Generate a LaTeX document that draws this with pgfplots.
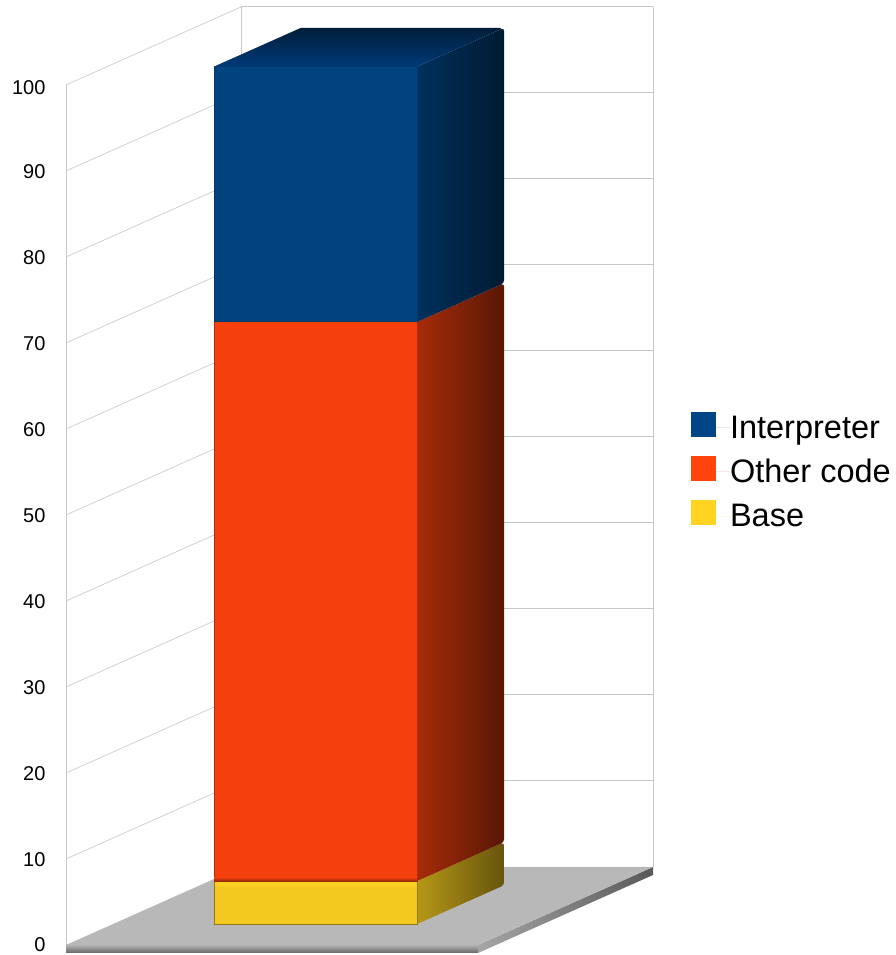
\documentclass[border=0pt]{standalone}
\usepackage{fontspec}
\setmainfont{Liberation Sans}
\usepackage{pgfplots}
\pgfplotsset{compat=1.18}

\definecolor{blueF}{HTML}{00437F}
\definecolor{orangeF}{HTML}{F5400E}
\definecolor{yellowF}{HTML}{F3C91F}
\definecolor{blueL}{HTML}{004586}
\definecolor{orangeL}{HTML}{FF420E}
\definecolor{yellowL}{HTML}{FFD320}

\begin{document}
\begin{tikzpicture}
\begin{axis}[
  x={(1pt,0pt)}, y={(175pt,78pt)}, z={(0pt,8.6pt)},
  xmin=0, xmax=412, ymin=0, ymax=1, zmin=0, zmax=100,
  clip=false,
  axis line style={draw=none},
  xtick=\empty, ytick=\empty,
  ztick={0,10,...,100},
  major tick length=0pt,
  /pgf/number format/assume math mode=true,
  ticklabel style={font=\fontsize{20}{24}\selectfont, text=black, xshift=-17pt, yshift=2pt},
  legend cell align=left,
  legend style={at={(axis cs:625,0,55.25)}, anchor=west, draw=none, fill=none,
    inner sep=0pt, outer sep=0pt, row sep=16pt,
    nodes={inner sep=0pt, font=\fontsize{32.5}{36}\selectfont, text=black}},
  legend image code/.code={
    \path (0pt,0pt) -- (39pt,0pt);
    \fill[#1] (0pt,-9pt) rectangle (25pt,16pt);},
]
% walls
\pgfplotsinvokeforeach{10,20,...,100}{
  \addplot3[forget plot, draw=black!18, line width=0.8pt] coordinates {(0,0,#1) (0,1,#1)};
  \addplot3[forget plot, draw=black!22, line width=1pt] coordinates {(0,1,#1) (412,1,#1)};
}
\addplot3[forget plot, draw=black!22, line width=1pt] coordinates {(0,0,0) (0,0,100)};
\addplot3[forget plot, draw=black!22, line width=1pt] coordinates {(0,1,0) (0,1,100)};
\addplot3[forget plot, draw=black!22, line width=1pt] coordinates {(412,1,0) (412,1,100)};
% floor slab
\addplot3[forget plot, draw=none, top color=black!30, bottom color=black!60]
  coordinates {(0,0,0) (412,0,0) (412,0,-0.93) (0,0,-0.93)} --cycle;
\addplot3[forget plot, draw=none, left color=black!35, right color=black!65]
  coordinates {(412,0,0) (412,1,0) (412,1,-0.93) (412,0,-0.93)} --cycle;
\addplot3[forget plot, draw=none, fill=black!28]
  coordinates {(0,0,0) (412,0,0) (412,1,0) (0,1,0)} --cycle;

% base segment: side face with eased corners, then the front
\addplot3[forget plot, draw=none, left color=yellowF!75!black, right color=yellowF!42!black]
  coordinates {(304,0.269,0) (304,0.75,0) (304,0.762,0.12) (304,0.766,0.4)
               (304,0.766,4.6) (304,0.762,4.88) (304,0.75,5) (304,0.269,5)} --cycle;
\addplot3[forget plot, draw=yellowF!60!black, line width=1pt, fill=yellowF]
  coordinates {(101,0.269,0) (304,0.269,0) (304,0.269,5) (101,0.269,5)} --cycle;
\addplot3[forget plot, draw=none, top color=yellowL, bottom color=yellowF]
  coordinates {(102,0.269,4.1) (303,0.269,4.1) (303,0.269,4.95) (102,0.269,4.95)} --cycle;

% other code segment
\addplot3[forget plot, draw=none, left color=orangeF!68!black, right color=orangeF!36!black]
  coordinates {(304,0.269,5) (304,0.75,5) (304,0.762,5.12) (304,0.766,5.4)
               (304,0.766,69.6) (304,0.762,69.88) (304,0.75,70) (304,0.269,70)} --cycle;
\addplot3[forget plot, draw=orangeF!72!black, line width=1pt, fill=orangeF]
  coordinates {(101,0.269,5) (304,0.269,5) (304,0.269,70) (101,0.269,70)} --cycle;
\addplot3[forget plot, draw=none, top color=orangeF, bottom color=orangeF!62!black]
  coordinates {(101,0.269,5) (304,0.269,5) (304,0.269,5.45) (101,0.269,5.45)} --cycle;

% interpreter segment
\addplot3[forget plot, draw=none, left color=blueF!72!black, right color=blueF!40!black]
  coordinates {(304,0.269,70) (304,0.75,70) (304,0.762,70.12) (304,0.766,70.4)
               (304,0.766,99.3) (304,0.762,99.58) (304,0.75,99.7) (304,0.269,99.7)} --cycle;
\addplot3[forget plot, draw=none, top color=blueF!45!black, bottom color=blueF!105!white]
  coordinates {(101,0.269,99.7) (304,0.269,99.7) (304,0.75,99.7) (300,0.766,99.7) (101,0.766,99.7)} --cycle;
\addplot3[forget plot, draw=blueF!85!black, line width=1pt, fill=blueF]
  coordinates {(101,0.269,70) (304,0.269,70) (304,0.269,99.7) (101,0.269,99.7)} --cycle;

% legend
\addlegendimage{draw=none, fill=blueL}
\addlegendentry{Interpreter}
\addlegendimage{draw=none, fill=orangeL}
\addlegendentry{Other code}
\addlegendimage{draw=none, fill=yellowL}
\addlegendentry{Base}

\coordinate (pageSW) at (axis cs:-66,0,-1.163);
\coordinate (pageNE) at (axis cs:829,0,109.88);
\end{axis}
\pgfresetboundingbox
\path[use as bounding box] (pageSW) rectangle (pageNE);
\end{tikzpicture}
\end{document}
